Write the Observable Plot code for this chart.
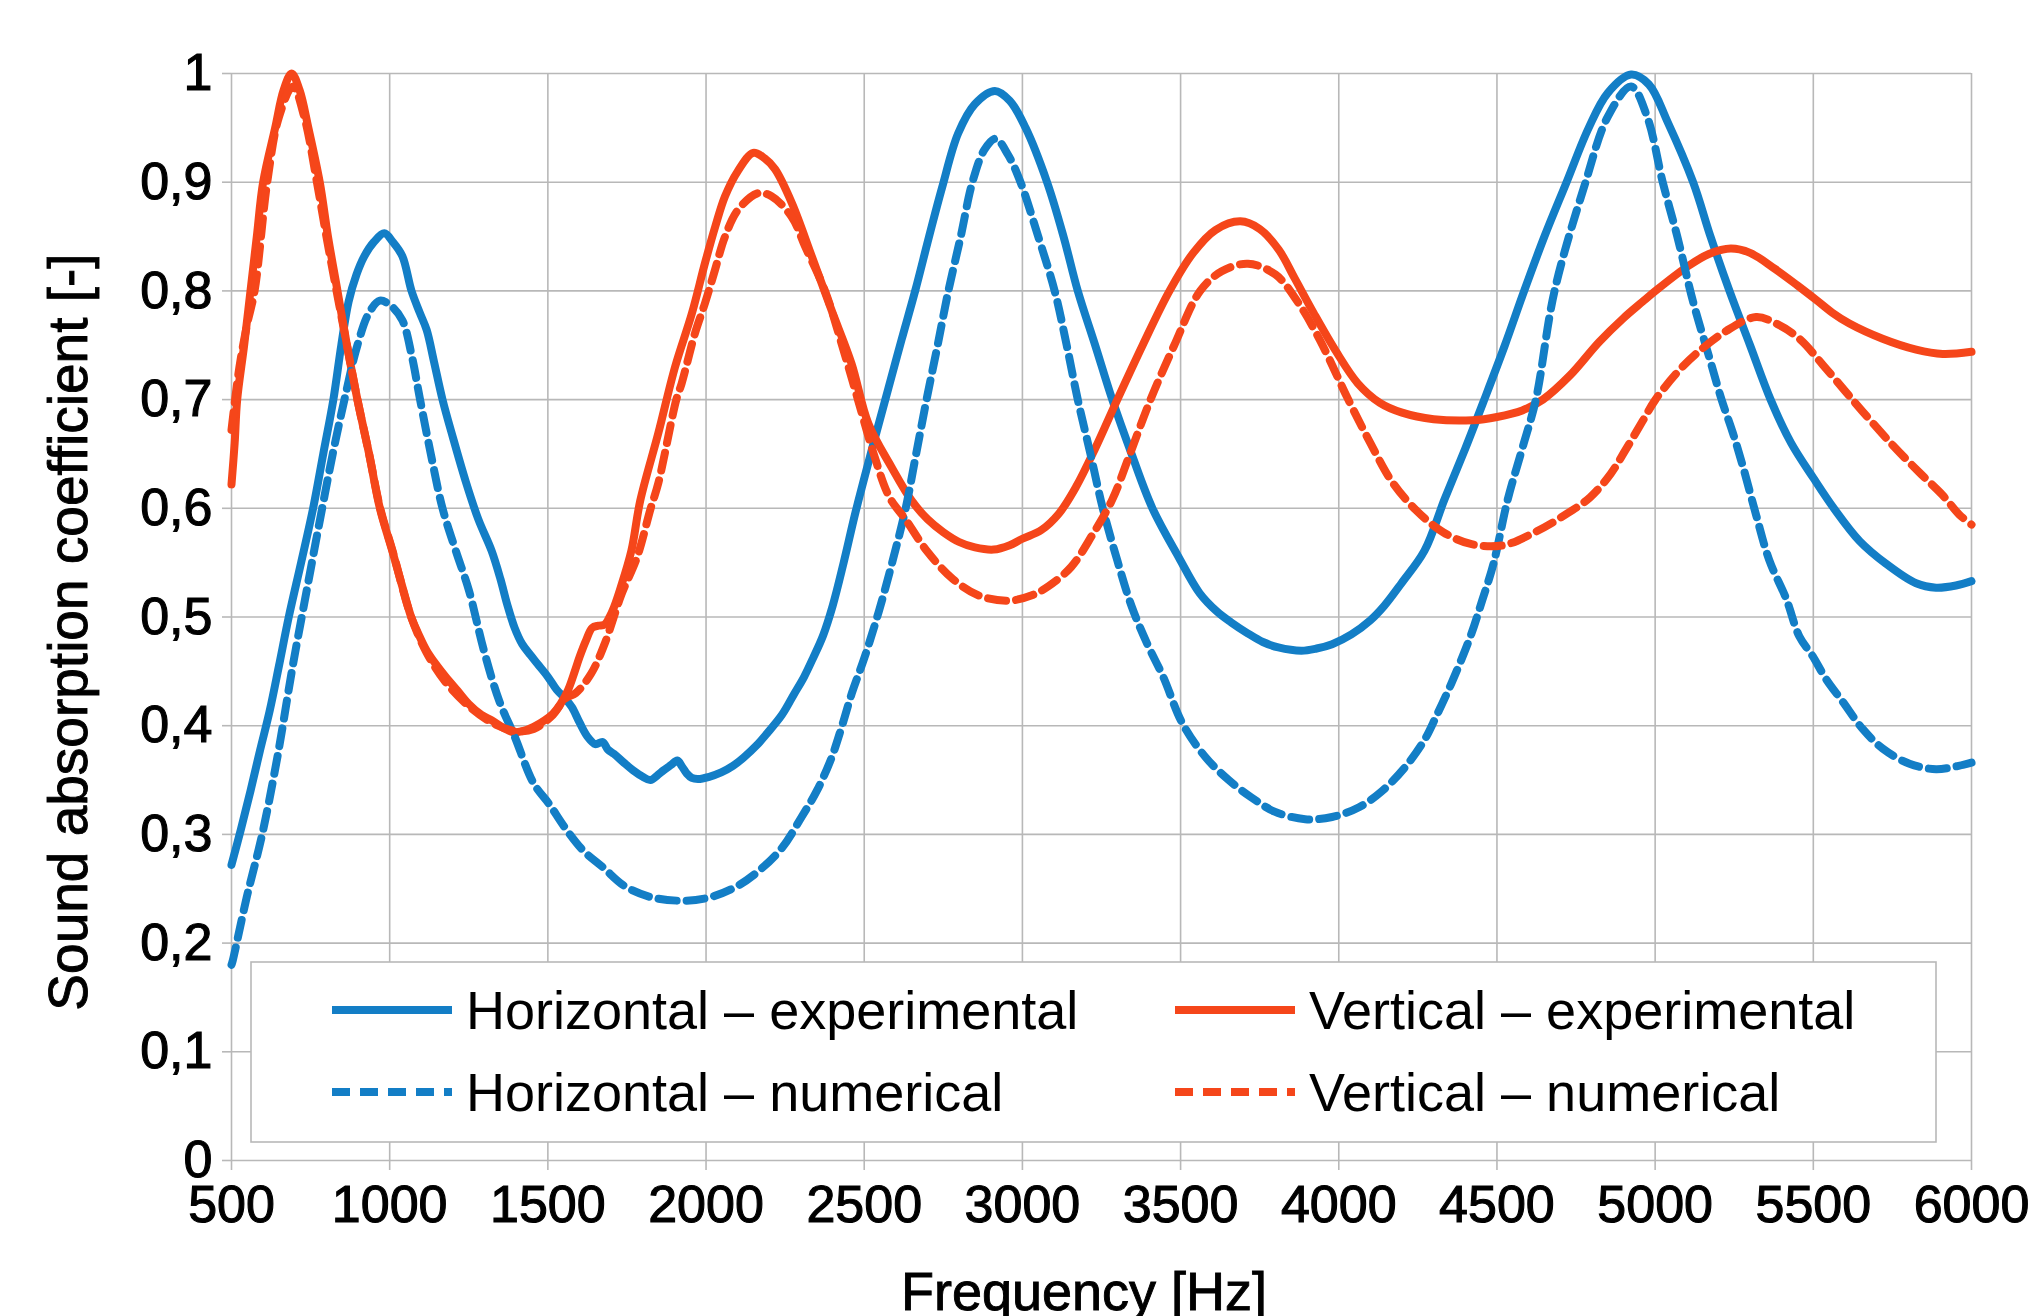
<!DOCTYPE html>
<html>
<head>
<meta charset="utf-8">
<script src="https://cdn.jsdelivr.net/npm/d3@7"></script>
<script src="https://cdn.jsdelivr.net/npm/@observablehq/plot@0.6"></script>
<style>
  html, body { margin: 0; padding: 0; background: #fff; }
  #chart svg { display: block; }
</style>
</head>
<body>
<div id="chart"></div>
<script>
// ---- Tick values and labels ----
const xTicks = [500, 1000, 1500, 2000, 2500, 3000, 3500, 4000, 4500, 5000, 5500, 6000];
const xTickLabels = ["500", "1000", "1500", "2000", "2500", "3000", "3500", "4000", "4500", "5000", "5500", "6000"];
const yTicks = [0, 0.1, 0.2, 0.3, 0.4, 0.5, 0.6, 0.7, 0.8, 0.9, 1];
const yTickLabels = ["0", "0,1", "0,2", "0,3", "0,4", "0,5", "0,6", "0,7", "0,8", "0,9", "1"];

const xTitle = "Frequency [Hz]";
const yTitle = "Sound absorption coefficient [-]";
const seriesNames = ["Horizontal – experimental", "Vertical – experimental", "Horizontal – numerical", "Vertical – numerical"];

// ---- Horizontal – experimental ----
const hExpF = [500,530,560,590,621,650,681,720,758,790,822,847,870,895,920,950,983,1010,1040,1069,1095,1117,1140,1167,1200,1240,1280,1322,1350,1371,1395,1419,1445,1467,1500,1528,1555,1576,1600,1625,1650,1673,1690,1709,1740,1769,1800,1824,1845,1866,1890,1909,1925,1939,1955,1975,2010,2048,2085,2120,2160,2193,2240,2278,2310,2338,2370,2400,2435,2473,2525,2576,2618,2661,2705,2746,2797,2850,2913,2960,3010,3078,3130,3175,3230,3284,3345,3411,3494,3560,3615,3660,3712,3760,3809,3882,3930,3979,4040,4100,4143,4198,4271,4334,4400,4460,4525,4586,4650,4720,4790,4850,4924,4980,5040,5120,5175,5235,5300,5365,5430,5500,5565,5646,5730,5825,5888,5951,6000];
const hExpV = [0.272,0.305,0.34,0.377,0.414,0.455,0.50,0.55,0.60,0.65,0.70,0.75,0.79,0.815,0.832,0.845,0.853,0.845,0.832,0.80,0.78,0.764,0.735,0.70,0.665,0.625,0.59,0.561,0.535,0.512,0.49,0.475,0.465,0.457,0.445,0.433,0.425,0.417,0.403,0.39,0.383,0.385,0.378,0.374,0.366,0.359,0.353,0.35,0.354,0.359,0.364,0.368,0.362,0.356,0.352,0.351,0.353,0.357,0.363,0.371,0.382,0.393,0.41,0.429,0.445,0.462,0.483,0.51,0.55,0.597,0.655,0.71,0.755,0.80,0.85,0.895,0.945,0.972,0.984,0.975,0.95,0.90,0.85,0.80,0.75,0.70,0.65,0.60,0.555,0.522,0.505,0.495,0.485,0.477,0.472,0.469,0.471,0.475,0.484,0.497,0.51,0.531,0.561,0.608,0.655,0.70,0.75,0.80,0.85,0.90,0.95,0.982,0.999,0.99,0.955,0.90,0.85,0.80,0.75,0.70,0.66,0.628,0.60,0.57,0.549,0.531,0.527,0.529,0.533];

// ---- Vertical – experimental ----
const vExpF = [500,510,518,540,560,580,600,638,665,690,715,743,779,805,835,865,898,935,969,1008,1038,1068,1090,1117,1150,1177,1215,1250,1290,1322,1360,1389,1420,1455,1490,1516,1540,1564,1585,1600,1620,1640,1660,1679,1695,1709,1730,1764,1792,1849,1902,1955,1997,2030,2060,2100,2149,2185,2218,2271,2334,2397,2460,2513,2586,2650,2700,2750,2800,2850,2909,2960,3000,3060,3115,3170,3230,3300,3380,3465,3540,3610,3689,3750,3810,3860,3920,3990,4060,4130,4200,4300,4423,4500,4580,4645,4730,4823,4900,4960,5001,5100,5170,5239,5300,5380,5450,5508,5560,5614,5719,5825,5909,6000];
const vExpV = [0.622,0.66,0.70,0.75,0.80,0.85,0.90,0.95,0.985,1.0,0.985,0.95,0.90,0.85,0.80,0.75,0.70,0.65,0.60,0.561,0.53,0.50,0.485,0.469,0.455,0.445,0.432,0.42,0.41,0.405,0.398,0.394,0.395,0.399,0.405,0.411,0.42,0.433,0.45,0.463,0.478,0.49,0.492,0.493,0.50,0.509,0.527,0.561,0.607,0.669,0.73,0.779,0.826,0.86,0.887,0.91,0.927,0.922,0.912,0.881,0.832,0.782,0.733,0.678,0.638,0.607,0.59,0.578,0.569,0.564,0.562,0.566,0.572,0.58,0.595,0.62,0.655,0.70,0.75,0.80,0.835,0.856,0.864,0.857,0.838,0.812,0.78,0.745,0.715,0.697,0.688,0.682,0.681,0.684,0.69,0.70,0.722,0.753,0.775,0.79,0.80,0.822,0.834,0.839,0.835,0.82,0.805,0.792,0.78,0.77,0.756,0.746,0.742,0.744];

// ---- Horizontal – numerical ----
const hNumF = [500,504,548,597,645,693,742,780,820,857,898,935,969,1005,1040,1070,1096,1130,1167,1210,1250,1298,1346,1395,1455,1504,1552,1612,1673,1745,1830,1927,2011,2096,2169,2241,2302,2350,2396,2430,2461,2500,2546,2590,2631,2664,2697,2732,2766,2805,2842,2880,2915,2955,2994,3050,3102,3140,3175,3215,3254,3300,3345,3395,3445,3506,3579,3652,3724,3797,3894,3979,4064,4137,4210,4271,4307,4356,4416,4453,4489,4534,4580,4623,4682,4780,4850,4924,4975,5024,5070,5120,5170,5210,5245,5276,5319,5361,5414,5456,5498,5540,5593,5656,5719,5804,5888,5973,6000];
const hNumV = [0.18,0.184,0.242,0.30,0.371,0.454,0.531,0.59,0.65,0.70,0.75,0.78,0.791,0.786,0.773,0.74,0.70,0.65,0.60,0.56,0.525,0.469,0.423,0.39,0.347,0.328,0.307,0.285,0.27,0.252,0.242,0.239,0.242,0.252,0.267,0.288,0.316,0.34,0.37,0.40,0.43,0.462,0.505,0.552,0.60,0.65,0.70,0.75,0.80,0.85,0.90,0.93,0.94,0.925,0.90,0.85,0.80,0.75,0.70,0.65,0.60,0.552,0.51,0.475,0.445,0.402,0.371,0.35,0.334,0.321,0.314,0.316,0.325,0.34,0.362,0.387,0.408,0.439,0.482,0.515,0.549,0.608,0.655,0.70,0.80,0.90,0.96,0.988,0.96,0.90,0.85,0.79,0.74,0.70,0.67,0.64,0.594,0.552,0.517,0.482,0.464,0.443,0.422,0.397,0.379,0.365,0.36,0.364,0.366];

// ---- Vertical – numerical ----
const vNumF = [500,525,550,573,613,650,694,730,770,800,832,865,898,935,970,1010,1068,1117,1177,1250,1322,1400,1455,1516,1555,1588,1637,1679,1733,1782,1825,1849,1906,1923,1965,1997,2028,2060,2102,2165,2207,2271,2313,2376,2430,2480,2530,2580,2630,2700,2780,2860,2957,3030,3081,3154,3220,3284,3340,3405,3480,3562,3630,3713,3800,3870,3940,4030,4100,4167,4245,4330,4420,4520,4620,4710,4794,4860,4907,4960,5001,5070,5129,5224,5319,5382,5456,5530,5600,5656,5751,5835,5909,5962,6000];
const vNumV = [0.672,0.73,0.77,0.80,0.90,0.96,0.988,0.96,0.90,0.85,0.80,0.75,0.70,0.65,0.60,0.56,0.50,0.467,0.44,0.418,0.403,0.395,0.397,0.41,0.425,0.43,0.448,0.475,0.521,0.555,0.60,0.623,0.70,0.715,0.761,0.789,0.819,0.85,0.875,0.89,0.887,0.868,0.841,0.80,0.75,0.70,0.65,0.61,0.59,0.56,0.535,0.52,0.515,0.52,0.528,0.546,0.575,0.608,0.65,0.70,0.75,0.80,0.818,0.825,0.815,0.79,0.755,0.70,0.66,0.625,0.598,0.578,0.567,0.566,0.578,0.593,0.61,0.632,0.654,0.68,0.70,0.725,0.742,0.763,0.776,0.77,0.756,0.732,0.708,0.689,0.658,0.633,0.612,0.594,0.585];

// ---- Build tables ----
const blue = "#137ec6";
const red = "#f5461a";
const styles = [
  {color: blue, dash: null},
  {color: red, dash: null},
  {color: blue, dash: "18,10"},
  {color: red, dash: "18,10"}
];
const toRows = (F, V) => F.map((f, i) => ({f, v: V[i]}));
const series = [toRows(hExpF, hExpV), toRows(vExpF, vExpV), toRows(hNumF, hNumV), toRows(vNumF, vNumV)];

const gridColor = "#b8b8b8";
const font = "'Liberation Sans', Arial, sans-serif";

const lineMarks = series.map((rows, i) => Plot.line(rows, {
  x: "f", y: "v",
  stroke: styles[i].color,
  strokeWidth: 8,
  strokeDasharray: styles[i].dash,
  strokeLinejoin: "round",
  curve: "catmull-rom"
}));

const chart = Plot.plot({
  width: 2036,
  height: 1316,
  marginLeft: 231,
  marginRight: 65,
  marginTop: 73,
  marginBottom: 156,
  style: {fontFamily: font, fontSize: "52px", color: "#000", background: "#fff", overflow: "visible"},
  x: {domain: [500, 6000], type: "linear"},
  y: {domain: [0, 1], type: "linear"},
  marks: [
    Plot.gridX(xTicks, {stroke: gridColor, strokeOpacity: 1, strokeWidth: 1.6}),
    Plot.gridY(yTicks, {stroke: gridColor, strokeOpacity: 1, strokeWidth: 1.6}),
    Plot.axisX(xTicks, {
      anchor: "bottom", tickSize: 10, tickPadding: 15,
      stroke: gridColor, strokeWidth: 1.6, fill: "#000",
      fontSize: 52, label: null,
      tickFormat: d => xTickLabels[xTicks.indexOf(d)]
    }),
    Plot.axisY(yTicks, {
      anchor: "left", tickSize: 9, tickPadding: 10,
      stroke: gridColor, strokeWidth: 1.6, fill: "#000",
      fontSize: 52, label: null,
      tickFormat: d => yTickLabels[yTicks.indexOf(d)]
    }),
    ...lineMarks
  ]
});

document.getElementById("chart").appendChild(chart);

const svg = d3.select(chart);
// slightly heavier tick labels, as in the reference
svg.selectAll("g[aria-label$='tick label'] text")
  .attr("stroke", "#000").attr("stroke-width", 1.1).attr("paint-order", "stroke");

// ---- Titles and legend (layout only) ----
svg.append("text")
  .attr("x", 1084).attr("y", 1310)
  .attr("text-anchor", "middle")
  .attr("font-family", font).attr("font-size", 54).attr("fill", "#000")
  .attr("stroke", "#000").attr("stroke-width", 0.9)
  .text(xTitle);
svg.append("text")
  .attr("transform", "translate(87,632) rotate(-90)")
  .attr("text-anchor", "middle")
  .attr("font-family", font).attr("font-size", 55).attr("fill", "#000")
  .attr("stroke", "#000").attr("stroke-width", 0.9)
  .text(yTitle);

const lg = svg.append("g");
lg.append("rect")
  .attr("x", 251).attr("y", 962).attr("width", 1685).attr("height", 180)
  .attr("fill", "#fff").attr("stroke", gridColor).attr("stroke-width", 1.6);
const legendPos = [
  {x: 332, y: 1010}, {x: 1175, y: 1010},
  {x: 332, y: 1092}, {x: 1175, y: 1092}
];
seriesNames.forEach((name, i) => {
  const p = legendPos[i];
  lg.append("line")
    .attr("x1", p.x).attr("x2", p.x + 120).attr("y1", p.y).attr("y2", p.y)
    .attr("stroke", styles[i].color).attr("stroke-width", 8)
    .attr("stroke-dasharray", styles[i].dash);
  lg.append("text")
    .attr("x", p.x + 134).attr("y", p.y + 19)
    .attr("text-anchor", "start")
    .attr("font-family", font).attr("font-size", 54).attr("fill", "#000")
    .text(name);
});
</script>
</body>
</html>
